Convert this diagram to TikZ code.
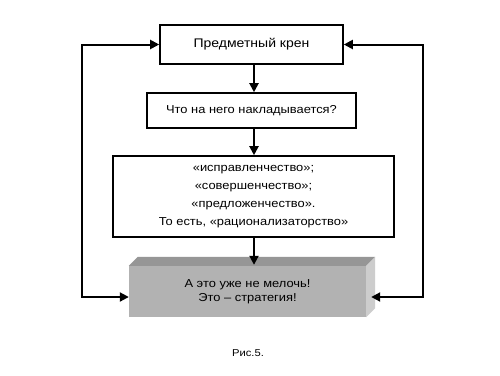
\documentclass[tikz,border=0pt]{standalone}
\usepackage{fontspec}
\setmainfont{Liberation Sans}[FakeStretch=1.12]
\usetikzlibrary{arrows.meta,calc}
\definecolor{frontgray}{RGB}{178,178,178}
\definecolor{topgray}{RGB}{150,150,150}
\definecolor{sidegray}{RGB}{205,205,205}
\begin{document}
\begin{tikzpicture}[x=1pt,y=-1pt,
  box/.style={draw=black,line width=1.6pt,fill=white,inner sep=0pt,align=center,font=\fontsize{11.5}{18}\selectfont},
  arr/.style={line width=2pt,-{Triangle[length=9pt,width=9pt]}},
  arrb/.style={line width=2pt,{Triangle[length=9pt,width=9pt]}-{Triangle[length=9pt,width=9pt]}}]
\useasboundingbox[fill=white] (0,0) rectangle (500,375);
\node[box,minimum width=183pt,minimum height=39pt,font=\fontsize{12.5}{18}\selectfont] (b1) at (251.5,44.5) {Предметный крен};
\node[box,minimum width=209pt,minimum height=35pt] (b2) at (251.5,110.5) {Что на него накладывается?};
\node[box,minimum width=281pt,minimum height=81pt] (b3) at (253.5,196.5) {«исправленчество»;\\«совершенчество»;\\«предложенчество».\\То есть, «рационализаторство»};
\node[fill=frontgray,inner sep=0pt,minimum width=237pt,minimum height=51pt,align=center,font=\fontsize{11.5}{14}\selectfont] (b4) at (247.5,291.5) {А это уже не мелочь!\\Это -- стратегия!};
\fill[topgray] (b4.north west) -- ++(9,-9) -- ($(b4.north east)+(9,-9)$) -- (b4.north east) -- cycle;
\fill[sidegray] (b4.north east) -- ++(9,-9) -- ($(b4.south east)+(9,-9)$) -- (b4.south east) -- cycle;
\coordinate (ax) at (254,0);
\coordinate (b4w) at ([yshift=-5.5pt]b4.west);
\coordinate (b4e) at ([xshift=5pt,yshift=-5.5pt]b4.east);
\coordinate (lx) at (82,170);
\coordinate (rx) at (423,170);
\draw[arr] (b1.south -| ax) -- (b2.north -| ax);
\draw[arr] (b2.south -| ax) -- (b3.north -| ax);
\draw[arr] (b3.south -| ax) -- ([yshift=1pt]b4.north -| ax);
\draw[arrb] (b1.west) -| (lx) |- (b4w);
\draw[arrb] (b1.east) -| (rx) |- (b4e);
\node[font=\fontsize{10}{12}\selectfont,inner sep=0pt] (cap) at (248,353) {Рис.5.};
\end{tikzpicture}
\end{document}
